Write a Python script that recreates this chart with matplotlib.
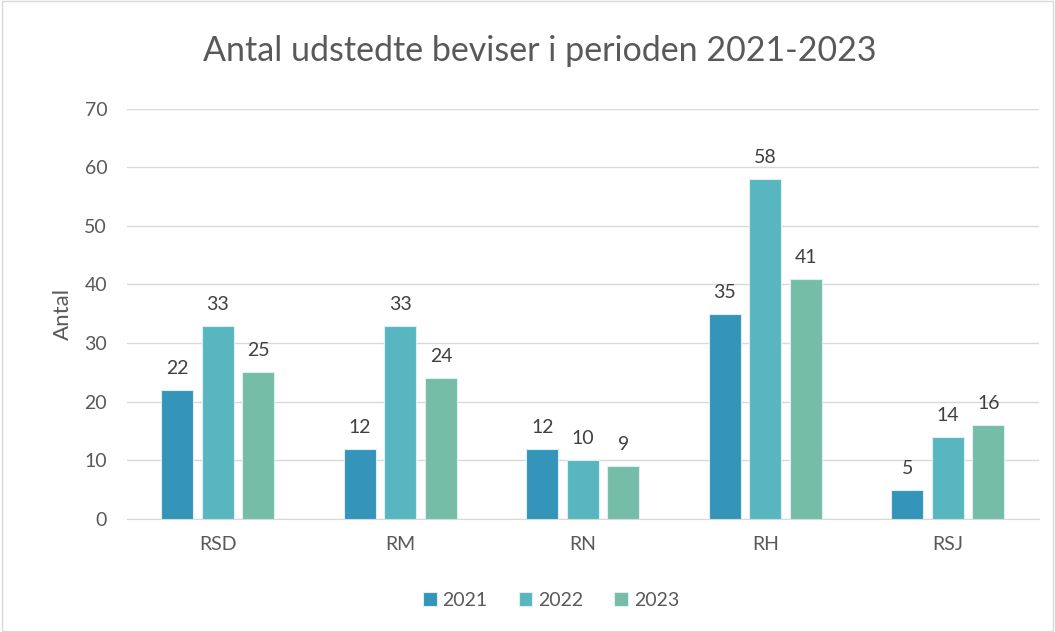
import numpy as np
import matplotlib
matplotlib.use("Agg")
import matplotlib.pyplot as plt
from matplotlib import patches

plt.rcParams['font.family'] = ['Lato', 'DejaVu Sans']

categories = ["RSD", "RM", "RN", "RH", "RSJ"]
years = ["2021", "2022", "2023"]
v2021 = [22, 12, 12, 35, 5]
v2022 = [33, 33, 10, 58, 14]
v2023 = [25, 24, 9, 41, 16]
yticks = [0, 10, 20, 30, 40, 50, 60, 70]

colors = ["#3494BA", "#58B6C0", "#75BDA7"]
series = [v2021, v2022, v2023]

fig = plt.figure(figsize=(10.55, 6.32), dpi=100)
ax = fig.add_axes([0.120, 0.179, 0.865, 0.649])

x = np.arange(len(categories))
w = 0.175
step = 0.222
for k, vals in enumerate(series):
    pos = x + (k - 1) * step
    bars = ax.bar(pos, vals, width=w, color=colors[k], edgecolor="#DDEFF3",
                  linewidth=0.8, label=years[k], zorder=3)
    for b, v in zip(bars, vals):
        ax.text(b.get_x() + b.get_width() / 2, v + 2.2, str(v), ha="center",
                va="bottom", fontsize=14, color="#404040")

ax.set_xlim(-0.5, len(categories) - 0.5)
ax.set_ylim(0, 70)
ax.set_yticks(yticks)
ax.set_xticks(x)
ax.set_xticklabels(categories)
ax.grid(axis="y", color="#D9D9D9", linewidth=1, zorder=0)
for s in ["top", "right", "left"]:
    ax.spines[s].set_visible(False)
ax.spines["bottom"].set_color("#D9D9D9")
ax.tick_params(axis="both", length=0, labelsize=14, labelcolor="#595959")
ax.tick_params(axis="x", pad=12)
ax.tick_params(axis="y", pad=14)
ax.set_ylabel("Antal", fontsize=16, color="#595959", labelpad=8)

fig.suptitle("Antal udstedte beviser i perioden 2021-2023", x=0.512, y=0.945,
             fontsize=24.5, color="#595959")

ax.legend(loc="upper center", bbox_to_anchor=(0.465, -0.135), ncol=3, frameon=False,
          fontsize=14, labelcolor="#595959", handlelength=0.7, handleheight=0.7,
          handletextpad=0.3, columnspacing=1.6)

fig.patches.append(patches.Rectangle((0.002, 0.002), 0.996, 0.996, transform=fig.transFigure,
                                     fill=False, edgecolor="#D9D9D9", linewidth=1))

fig.savefig("out.png", dpi=100)
